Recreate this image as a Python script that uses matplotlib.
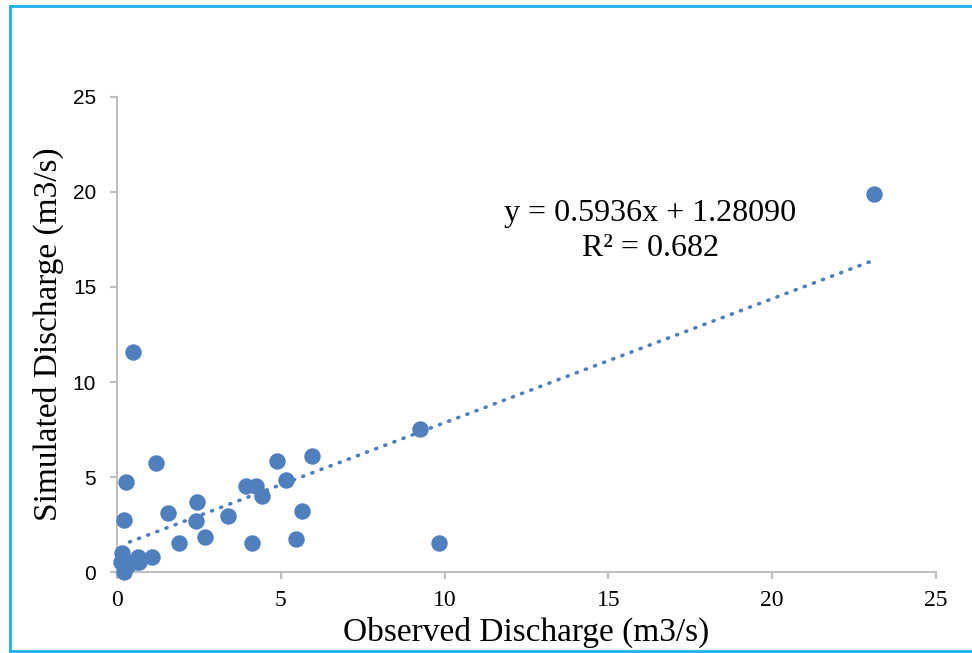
import numpy as np
import matplotlib
matplotlib.use("Agg")
import matplotlib.pyplot as plt
from matplotlib.lines import Line2D

# observed vs simulated discharge (m3/s)
observed = [23.1, 0.5, 9.25, 9.83, 5.95, 4.88, 5.16, 5.65, 5.46, 3.93, 4.24, 4.41,
            4.13, 3.38, 2.45, 2.41, 2.69, 1.88, 1.56, 1.19, 0.26, 0.21, 1.08, 0.68,
            0.65, 0.14, 0.12, 0.21, 0.35, 0.40, 0.60]
simulated = [19.9, 11.6, 7.53, 1.53, 6.12, 5.82, 4.84, 3.23, 1.74, 4.53, 4.53, 4.0,
             1.53, 2.93, 3.68, 2.70, 1.83, 1.53, 3.12, 5.74, 4.74, 2.74, 0.80, 0.54,
             0.81, 0.98, 0.54, 0.02, 0.37, 0.46, 0.54]

eq_text = "y = 0.5936x + 1.28090"
r2_text = "R² = 0.682"
ticks = [0, 5, 10, 15, 20, 25]

blue = '#4f7fbd'
grey = '#bfbfbf'
H = 653

fig = plt.figure(figsize=(9.72, 6.53), dpi=100)
ax = fig.add_axes([0.1204, 0.124, 0.8426, 0.7275])

ax.scatter(observed, simulated, s=140, color=blue, zorder=3, linewidths=0, clip_on=False)

# linear trendline fitted to the points
x = np.array(observed)
slope, intercept = np.polyfit(x, simulated, 1)
xs = np.array([0.38, x.max()])
ax.plot(xs, slope * xs + intercept, color=blue, lw=2.6,
        linestyle=(0, (0.3, 2.4)), dash_capstyle='round', zorder=2)

ax.set_xlim(0, 25)
ax.set_ylim(0, 25)
ax.set_xticks(ticks)
ax.set_yticks(ticks)

for side in ['top', 'right']:
    ax.spines[side].set_visible(False)
for side in ['left', 'bottom']:
    ax.spines[side].set_color(grey)
    ax.spines[side].set_linewidth(1.5)
ax.tick_params(axis='both', direction='out', length=5, width=1.5, color=grey)
ax.tick_params(axis='x', pad=8)
ax.tick_params(axis='y', pad=10)

for lbl in ax.get_xticklabels():
    lbl.set_fontfamily('Liberation Serif')
    lbl.set_fontsize(17)
for lbl in ax.get_yticklabels():
    lbl.set_fontfamily('Liberation Sans')
    lbl.set_fontsize(15)

ax.set_xlabel('Observed Discharge (m3/s)', family='Liberation Serif', fontsize=24, labelpad=4)
ax.set_ylabel('Simulated Discharge (m3/s)', family='Liberation Serif', fontsize=24, labelpad=6)

ax.text(650, H - 213, eq_text, transform=None, ha='center', va='center',
        family='Liberation Serif', fontsize=23)
ax.text(650, H - 248, r2_text, transform=None, ha='center', va='center',
        family='Liberation Serif', fontsize=23)

# cyan frame (right edge is cut off in the original)
frame = dict(color='#1ab2ee', lw=2, transform=None)
fig.add_artist(Line2D([10, 10], [H - 6, H - 651], **frame))
fig.add_artist(Line2D([10, 972], [H - 6, H - 6], **frame))
fig.add_artist(Line2D([10, 972], [H - 651, H - 651], **frame))

fig.savefig('out.png', dpi=100)
